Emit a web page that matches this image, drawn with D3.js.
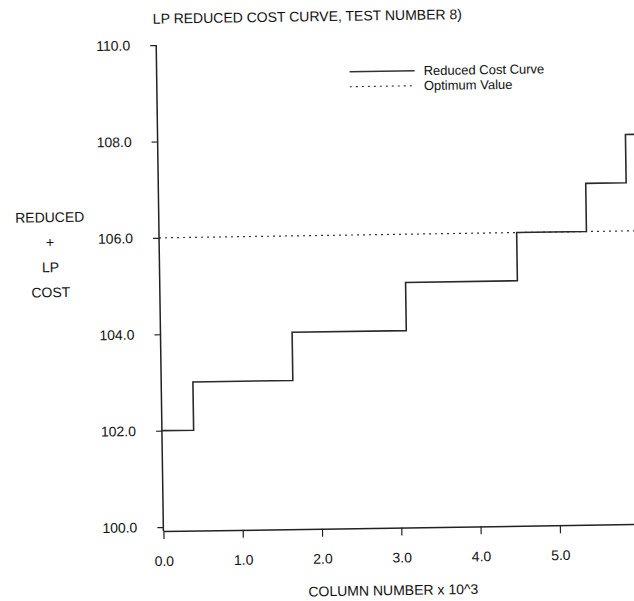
<!DOCTYPE html>
<html>
<head>
<meta charset="utf-8">
<script src="https://cdn.jsdelivr.net/npm/d3@7"></script>
<style>
  body { margin: 0; background: #fff; }
  svg { display: block; }
  text { font-family: "Liberation Sans", Arial, sans-serif; fill: #111; }
</style>
</head>
<body>
<script>
// step positions (column number x 10^3, cost)
var stepX = [0, 0.40, 1.66, 3.10, 4.51, 5.39, 5.90, 6.05];
var stepCost = [102, 103, 104, 105, 106, 107, 108, 108];
var optimumValue = 106;
var xTicks = [0, 1, 2, 3, 4, 5];
var yTicks = [100, 102, 104, 106, 108, 110];
var yTitleLines = ["REDUCED", "+", "LP", "COST"];
var legendLabels = ["Reduced Cost Curve", "Optimum Value"];

var width = 634,
    height = 601;

var x = d3.scaleLinear().domain([0, 6]).range([160, 635.8]);
var y = d3.scaleLinear().domain([100, 110]).range([523.5, 41.5]);
var axisY = 527.5;

var svg = d3.select("body").append("svg")
    .attr("width", width)
    .attr("height", height);

// the scanned page sits slightly rotated
var g = svg.append("g")
    .attr("transform", "rotate(-0.85 400 300)");

// title
g.append("text")
    .attr("x", 157)
    .attr("y", 20)
    .style("font-size", "14px")
    .text("LP REDUCED COST CURVE, TEST NUMBER 8)");

// y axis
var yAxis = g.append("g")
    .attr("transform", "translate(" + x(0) + ",0)")
    .call(d3.axisLeft(y).tickValues(yTicks).tickSize(6).tickPadding(20)
        .tickFormat(d3.format(".1f")));
yAxis.select(".domain").remove();
yAxis.selectAll(".tick line").attr("stroke", "#222").attr("stroke-width", 1.2);
yAxis.selectAll(".tick text")
    .style("font-size", "14px")
    .style("font-family", "'Liberation Sans', Arial, sans-serif")
    .attr("fill", "#111");
g.append("line")
    .attr("x1", x(0)).attr("x2", x(0))
    .attr("y1", y(110)).attr("y2", axisY)
    .attr("stroke", "#222")
    .attr("stroke-width", 1.5);

// x axis
var xAxis = g.append("g")
    .attr("transform", "translate(0," + axisY + ")")
    .call(d3.axisBottom(x).tickValues(xTicks).tickSize(8).tickSizeOuter(0).tickPadding(17)
        .tickFormat(d3.format(".1f")));
xAxis.select(".domain").attr("stroke", "#222").attr("stroke-width", 1.5);
xAxis.selectAll(".tick line").attr("stroke", "#222").attr("stroke-width", 1.2);
xAxis.selectAll(".tick text")
    .style("font-size", "14px")
    .style("font-family", "'Liberation Sans', Arial, sans-serif")
    .attr("fill", "#111");

// axis titles
g.append("text")
    .attr("x", 389)
    .attr("y", 595)
    .attr("text-anchor", "middle")
    .style("font-size", "14px")
    .text("COLUMN NUMBER x 10^3");

g.selectAll(".ytitle")
    .data(yTitleLines)
    .enter().append("text")
    .attr("class", "ytitle")
    .attr("x", 51)
    .attr("y", function(d, i) { return 217 + i * 25; })
    .attr("text-anchor", "middle")
    .style("font-size", "14px")
    .text(function(d) { return d; });

// optimum value line
g.append("line")
    .attr("x1", x(0)).attr("x2", x(6.05))
    .attr("y1", y(optimumValue)).attr("y2", y(optimumValue))
    .attr("stroke", "#333")
    .attr("stroke-width", 1.2)
    .attr("stroke-dasharray", "2,4");

// reduced cost curve
var line = d3.line()
    .x(function(d) { return x(d[0]); })
    .y(function(d) { return y(d[1]); })
    .curve(d3.curveStepAfter);

g.append("path")
    .datum(d3.zip(stepX, stepCost))
    .attr("d", line)
    .attr("fill", "none")
    .attr("stroke", "#2a2a2a")
    .attr("stroke-width", 1.6);

// legend
var legend = g.append("g").attr("transform", "translate(353,71)");
legend.selectAll("line")
    .data(legendLabels)
    .enter().append("line")
    .attr("x1", 0).attr("x2", 65)
    .attr("y1", function(d, i) { return i * 15; })
    .attr("y2", function(d, i) { return i * 15; })
    .attr("stroke", "#333")
    .attr("stroke-width", function(d, i) { return i === 0 ? 1.4 : 1.1; })
    .attr("stroke-dasharray", function(d, i) { return i === 0 ? "none" : "2,4"; });
legend.selectAll("text")
    .data(legendLabels)
    .enter().append("text")
    .attr("x", 74)
    .attr("y", function(d, i) { return i * 15 + 4.5; })
    .style("font-size", "13px")
    .text(function(d) { return d; });
</script>
</body>
</html>
